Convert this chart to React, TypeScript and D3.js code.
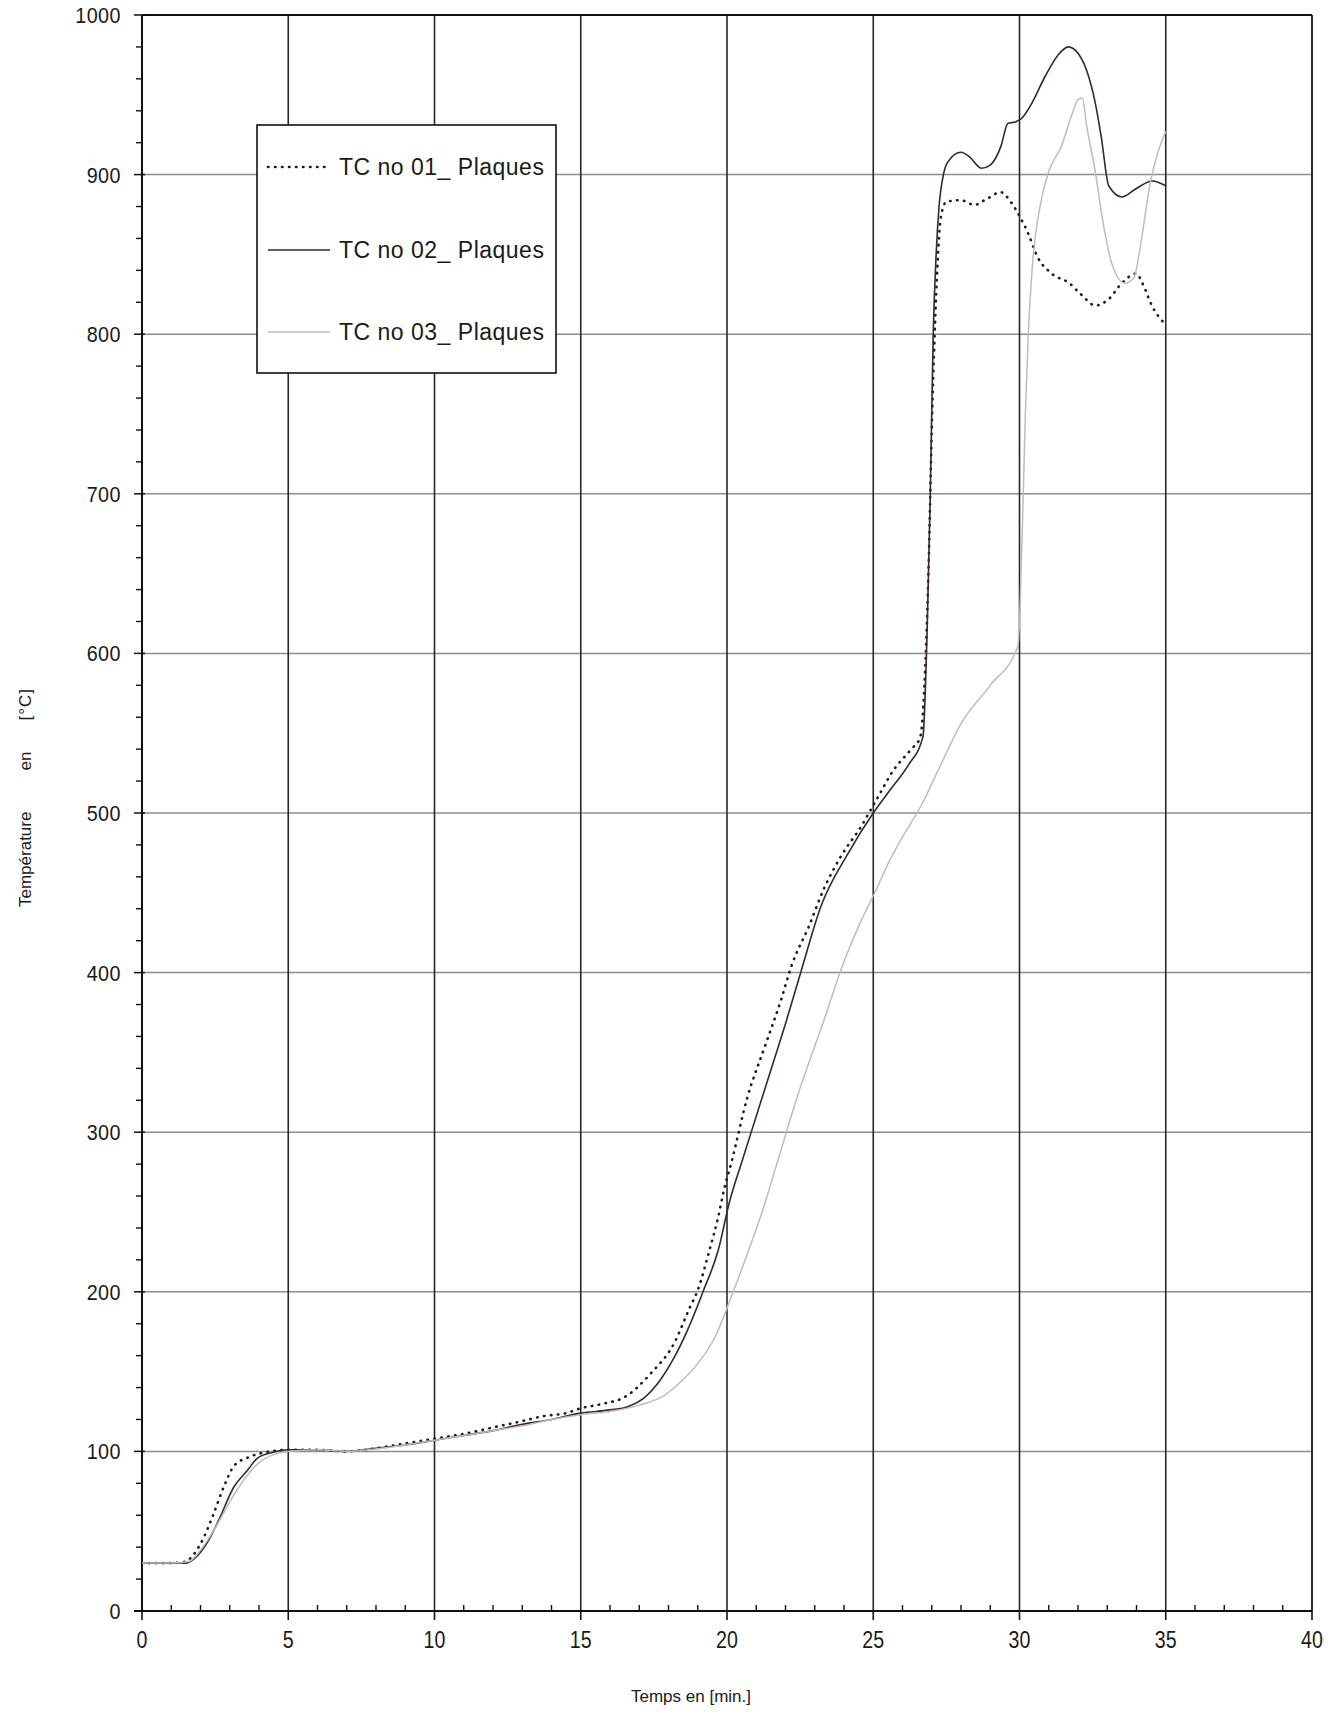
import React from "react";
import * as d3 from "d3";

// Temperature readings (°C) against time (minutes) for three thermocouples
const tc01Time = [0, 1, 1.5, 1.7, 2.0, 2.45, 2.8, 3.15, 3.6, 4.1, 4.6, 5, 6, 7, 8, 9, 10, 11, 12, 13, 13.7, 14.5, 15, 15.8, 16.5, 17.4, 18.2, 18.7, 19.0, 19.4, 19.7, 19.9, 20.15, 20.7, 21.3, 21.85, 22.2, 22.8, 23.3, 23.9, 24.6, 25.1, 25.7, 26.3, 26.6, 26.75, 26.9, 27.0, 27.1, 27.2, 27.3, 27.5, 28.0, 28.45, 28.9, 29.35, 29.7, 30.0, 30.3, 30.6, 31.1, 31.7, 32.1, 32.6, 33.05, 33.5, 34.0, 34.2, 34.55, 35.0];
const tc01Temp = [30, 30, 31, 34, 42, 61, 78, 91, 96, 99, 100.5, 101, 101, 100, 102, 105, 108, 111, 115, 119, 122, 124, 127, 130, 134, 149, 168, 189, 201, 226, 247, 264, 281, 322, 354, 383, 404, 429, 452, 473, 492, 508, 527, 540, 547, 580, 660, 740, 800, 845, 872, 883, 884, 881, 885, 889, 883, 874, 863, 849, 838, 832, 825, 818, 822, 832, 838, 832, 817, 806];

const tc02Time = [0, 1, 1.5, 1.8, 2.2, 2.6, 3.15, 3.6, 3.96, 4.5, 5, 6, 7, 8, 9, 10, 11, 12, 13, 14, 15, 16, 16.6, 17.2, 17.65, 18.2, 18.65, 19.2, 19.7, 20.08, 20.5, 21.0, 21.5, 22.0, 22.55, 23.2, 24.15, 25.0, 25.6, 26.2, 26.7, 26.85, 26.95, 27.05, 27.15, 27.25, 27.4, 27.55, 28.0, 28.3, 28.7, 29.0, 29.37, 29.6, 29.85, 30.06, 30.4, 30.86, 31.32, 31.67, 32.0, 32.3, 32.6, 32.8, 33.05, 33.5, 33.97, 34.54, 35.0];
const tc02Temp = [30, 30, 30, 33, 42, 56, 78, 88, 96, 99.5, 101, 101, 100, 102, 104, 107, 110, 113, 117, 120, 124, 126, 128, 134, 143, 159, 176, 201, 226, 256, 281, 310, 339, 368, 402, 441, 475, 500, 515, 530, 548, 620, 700, 800, 850, 880, 900, 908, 914, 911, 904, 906, 918, 932, 933, 935, 944, 961, 975, 980, 976, 965, 944, 923, 893, 886, 891, 896, 893];

const tc03Time = [0, 1, 1.6, 2.0, 2.5, 3.15, 3.6, 4.0, 4.5, 5, 6, 7, 8, 9, 10, 11, 12, 13, 14, 15, 16, 17, 17.85, 18.5, 19.0, 19.6, 20.15, 20.7, 21.2, 21.75, 22.45, 23.35, 23.9, 24.6, 25.05, 25.5, 26.0, 26.65, 27.3, 28.0, 29.0, 29.95, 30.1, 30.2, 30.3, 30.45, 30.7, 31.0, 31.44, 31.78, 32.0, 32.15, 32.3, 32.6, 32.82, 33.16, 33.6, 33.9, 34.2, 34.45, 34.7, 35.0];
const tc03Temp = [30, 30, 31, 38, 52, 73, 85, 93, 98, 100, 101, 100, 101.5, 104, 107, 110, 113, 116, 120, 123, 125, 129, 135, 145, 155, 172, 197, 224, 250, 283, 325, 372, 402, 433, 450, 468, 485, 505, 530, 556, 580, 605, 680, 750, 800, 845, 880, 902, 918, 937, 947, 948, 930, 901, 874, 844, 832, 835, 863, 893, 912, 927];

const seriesNames = ["TC no 01_ Plaques", "TC no 02_ Plaques", "TC no 03_ Plaques"];
const xTicks = [0, 5, 10, 15, 20, 25, 30, 35, 40];
const yTicks = [0, 100, 200, 300, 400, 500, 600, 700, 800, 900, 1000];

const W = 1339;
const H = 1712;
const left = 142;
const right = 1312;
const top = 15;
const bottom = 1611;

const x = d3.scaleLinear().domain([0, 40]).range([left, right]);
const y = d3.scaleLinear().domain([0, 1000]).range([bottom, top]);

const line = d3
  .line<[number, number]>()
  .x((d) => x(d[0]))
  .y((d) => y(d[1]))
  .curve(d3.curveMonotoneX);

const zip = (a: number[], b: number[]) => a.map((v, i) => [v, b[i]] as [number, number]);

const styles = [
  { stroke: "#1c1c1c", width: 2.6, dash: "0.5 6.5", cap: "round" as const },
  { stroke: "#3c2626", width: 1.6, dash: undefined, cap: "butt" as const },
  { stroke: "#bdbdbd", width: 1.5, dash: undefined, cap: "butt" as const },
];

const series = [zip(tc01Time, tc01Temp), zip(tc02Time, tc02Temp), zip(tc03Time, tc03Temp)];

const font = "'Liberation Sans', Arial, Helvetica, sans-serif";

export default function App() {
  const minorX = d3.range(0, 41, 1).filter((v) => v % 5 !== 0);
  const minorY = d3.range(0, 1001, 20).filter((v) => v % 100 !== 0);

  const legendRows = [167, 250, 332];

  return (
    <svg
      width={W}
      height={H}
      style={{ position: "absolute", left: 0, top: 0, background: "#fff" }}
      fontFamily={font}
    >
      {/* horizontal grid */}
      {yTicks.map((t) => (
        <line key={"gy" + t} x1={left} x2={right} y1={y(t)} y2={y(t)} stroke="#8d8d8d" strokeWidth={1.5} />
      ))}
      {/* vertical grid */}
      {xTicks.map((t) => (
        <line key={"gx" + t} x1={x(t)} x2={x(t)} y1={top} y2={bottom} stroke="#26262f" strokeWidth={1.6} />
      ))}
      {/* frame */}
      <line x1={left} x2={right} y1={top} y2={top} stroke="#111" strokeWidth={1.8} />
      <line x1={right} x2={right} y1={top} y2={bottom} stroke="#222" strokeWidth={1.6} />
      <line x1={left} x2={left} y1={top} y2={bottom} stroke="#111" strokeWidth={2} />
      <line x1={left - 8} x2={right} y1={bottom} y2={bottom} stroke="#111" strokeWidth={2} />

      {/* y ticks */}
      {minorY.map((t) => (
        <line key={"my" + t} x1={left - 6} x2={left} y1={y(t)} y2={y(t)} stroke="#111" strokeWidth={1.4} />
      ))}
      {yTicks.map((t) => (
        <line key={"My" + t} x1={left - 8} x2={left + 3} y1={y(t)} y2={y(t)} stroke="#111" strokeWidth={1.5} />
      ))}
      {/* x ticks */}
      {minorX.map((t) => (
        <line key={"mx" + t} x1={x(t)} x2={x(t)} y1={bottom} y2={bottom - 6} stroke="#111" strokeWidth={1.4} />
      ))}
      {xTicks.map((t) => (
        <line key={"Mx" + t} x1={x(t)} x2={x(t)} y1={bottom} y2={bottom + 9} stroke="#111" strokeWidth={1.6} />
      ))}

      {/* tick labels */}
      {yTicks.map((t) => (
        <text
          key={"ly" + t}
          transform={`translate(121,${y(t)}) scale(0.9,1)`}
          dy="0.36em"
          textAnchor="end"
          fontSize={22}
          letterSpacing={0.5}
          fill="#1a1a1a"
        >
          {t}
        </text>
      ))}
      {xTicks.map((t) => (
        <text
          key={"lx" + t}
          transform={`translate(${x(t)},${1639}) scale(0.8,1)`}
          dy="0.36em"
          textAnchor="middle"
          fontSize={24.5}
          fill="#1a1a1a"
        >
          {t}
        </text>
      ))}

      {/* axis titles */}
      <text transform="translate(31,907) rotate(-90)" fontSize={17} fill="#1a1a1a">
        Température
      </text>
      <text transform="translate(31,761) rotate(-90)" textAnchor="middle" fontSize={17} fill="#1a1a1a">
        en
      </text>
      <text transform="translate(31,688) rotate(-90)" textAnchor="end" fontSize={17} letterSpacing={1} fill="#1a1a1a">
        [°C]
      </text>
      <text x={691} y={1702} textAnchor="middle" fontSize={17} fill="#1a1a1a">
        Temps en [min.]
      </text>

      {/* series */}
      {series.map((s, i) => (
        <path
          key={"s" + i}
          d={line(s) || ""}
          fill="none"
          stroke={styles[i].stroke}
          strokeWidth={styles[i].width}
          strokeDasharray={styles[i].dash}
          strokeLinecap={styles[i].cap}
          strokeLinejoin="round"
        />
      ))}

      {/* legend */}
      <rect x={257} y={125} width={299} height={248} fill="#fff" stroke="#111" strokeWidth={1.6} />
      {seriesNames.map((name, i) => (
        <g key={"lg" + i}>
          <line
            x1={268}
            x2={330}
            y1={legendRows[i]}
            y2={legendRows[i]}
            stroke={styles[i].stroke}
            strokeWidth={styles[i].width}
            strokeDasharray={styles[i].dash}
            strokeLinecap={styles[i].cap}
          />
          <text x={339} y={legendRows[i]} dy="0.36em" fontSize={23} letterSpacing={0.5} fill="#1a1a1a">
            {name}
          </text>
        </g>
      ))}
    </svg>
  );
}
